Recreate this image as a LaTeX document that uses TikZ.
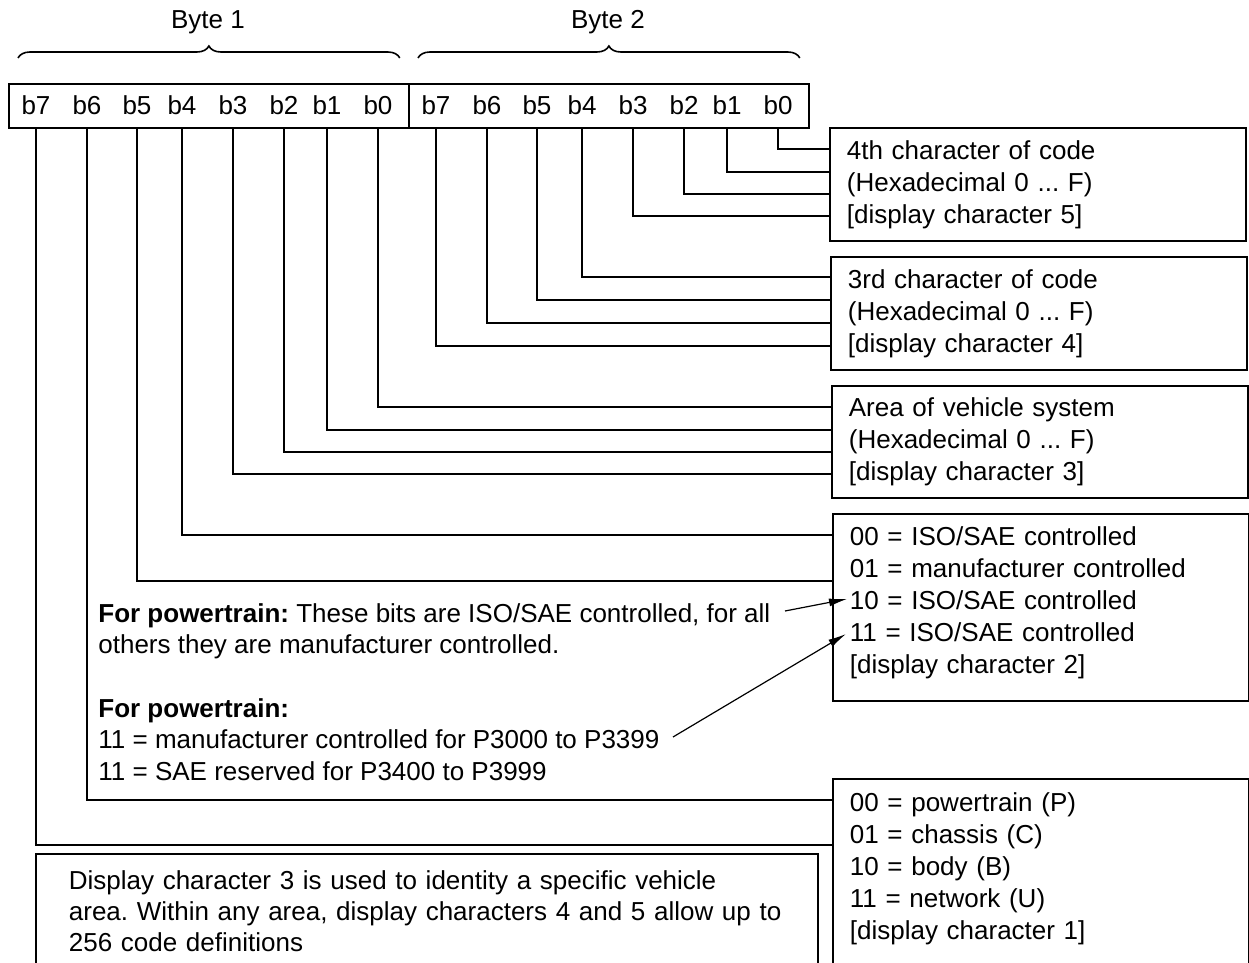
\documentclass[tikz,border=0pt]{standalone}
\usepackage{fontspec}
\setmainfont{Liberation Sans}
\usetikzlibrary{arrows.meta,decorations.pathreplacing}
\frenchspacing

\tikzset{
  wire/.style={line width=0.9pt},
  bytebox/.style={draw, line width=0.9pt, minimum width=200pt, minimum height=22pt, anchor=north west, inner sep=0pt},
  bitlbl/.style={inner sep=1pt},
  infobox/.style={draw, line width=0.9pt, align=left, anchor=north west, inner xsep=8.5pt, text width=191pt},
  bytebrace/.style={decorate, decoration={brace, amplitude=6pt}, line width=0.8pt},
  callout/.style={line width=0.6pt, -{Latex[length=9pt,width=4pt]}},
}

\begin{document}
\begin{tikzpicture}[x=0.5pt, y=-0.5pt, font=\fontsize{13pt}{16pt}\selectfont]
  \useasboundingbox (0,0) rectangle (1249,963);
  \clip (0,0) rectangle (1249,963);

  %%%%% BYTES %%%%%
  \node[bytebox] (byteA) at (8,83) {};
  \node[bytebox] (byteB) at (408,83) {};
  \draw[bytebrace] ([shift={(5pt,12.5pt)}]byteA.north west) -- ([shift={(-5pt,12.5pt)}]byteA.north east);
  \draw[bytebrace] ([shift={(5pt,12.5pt)}]byteB.north west) -- ([shift={(-5pt,12.5pt)}]byteB.north east);
  \node (byte1) at (208,22) {Byte 1};
  \node (byte2) at (608,22) {Byte 2};

  \foreach \n/\x in {7/36,6/87,5/137,4/182,3/233,2/284,1/327,0/378} {
    \node[bitlbl] (ab\n) at (\x,105) {b\n};
    \node[bitlbl] (bb\n) at (\x+400,105) {b\n};
  }

  %%%%% DISPLAY CHARACTERS %%%%%
  \node[infobox, minimum height=56.5pt] (d5) at (829,127)
    {4th character of code\\(Hexadecimal 0 ... F)\\{}[display character 5]};
  \node[infobox, minimum height=56.5pt] (d4) at (830,256)
    {3rd character of code\\(Hexadecimal 0 ... F)\\{}[display character 4]};
  \node[infobox, minimum height=56pt] (d3) at (831,385)
    {Area of vehicle system\\(Hexadecimal 0 ... F)\\{}[display character 3]};
  \node[infobox, minimum height=93.5pt] (d2) at (832,513)
    {00 = ISO/SAE controlled\\01 = manufacturer controlled\\10 = ISO/SAE controlled\\11 = ISO/SAE controlled\\{}[display character 2]\\[-9pt]\mbox{}};
  \node[infobox, inner ysep=7pt] (d1) at (832,778)
    {00 = powertrain (P)\\01 = chassis (C)\\10 = body (B)\\11 = network (U)\\{}[display character 1]\\\mbox{}};

  \node[infobox, inner xsep=16.5pt, inner ysep=8.5pt, text width=358pt, font=\fontsize{13pt}{15.5pt}\selectfont] (note) at (35,853)
    {Display character 3 is used to identity a specific vehicle\\area. Within any area, display characters 4 and 5 allow up to\\256 code definitions\\\mbox{}};

  %%%%% WIRES %%%%%
  \foreach \b/\t/\y in {bb0/d5/149, bb1/d5/172, bb2/d5/194, bb3/d5/216,
                        bb4/d4/277, bb5/d4/300, bb6/d4/323, bb7/d4/346,
                        ab0/d3/407, ab1/d3/430, ab2/d3/452, ab3/d3/474,
                        ab4/d2/535, ab5/d2/581, ab6/d1/800, ab7/d1/845}
    \draw[wire] (\b |- byteA.south) |- (\t.west |- 0,\y);

  %%%%% POWERTRAIN NOTE %%%%%
  \node[align=left, anchor=north west, inner sep=0pt, font=\fontsize{13pt}{15.8pt}\selectfont] (ptnote) at (98,603)
    {\textbf{For powertrain:} These bits are ISO/SAE controlled, for all\\
     others they are manufacturer controlled.\\[15.8pt]
     \textbf{For powertrain:}\\
     11 = manufacturer controlled for P3000 to P3399\\
     11 = SAE reserved for P3400 to P3999};

  \coordinate (a1s) at (785,611);
  \coordinate (a1e) at (847,599);
  \coordinate (a2s) at (673,737);
  \coordinate (a2e) at (846,634);
  \draw[callout] (a1s) -- (a1e);
  \draw[callout] (a2s) -- (a2e);
\end{tikzpicture}
\end{document}
